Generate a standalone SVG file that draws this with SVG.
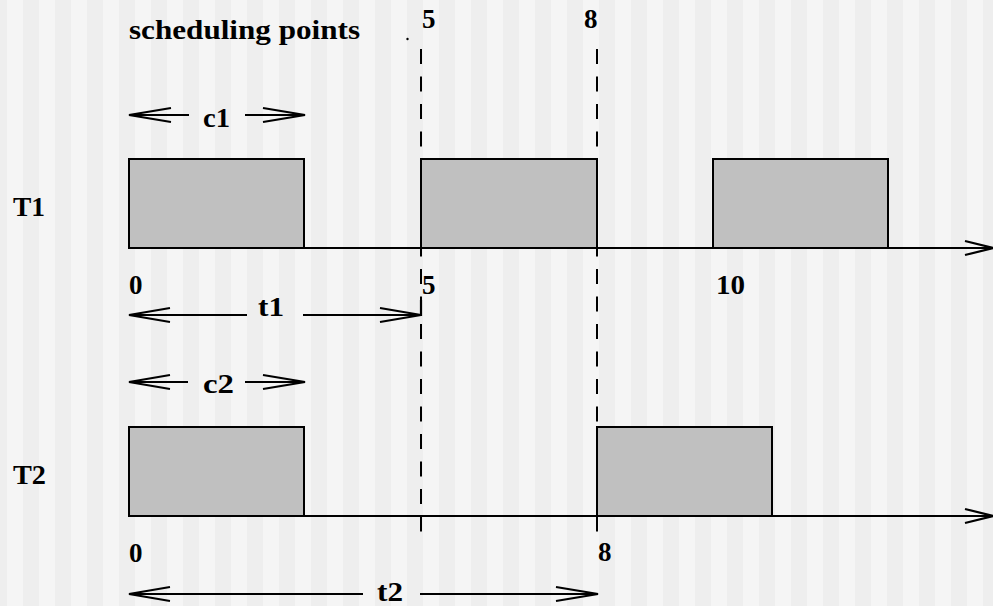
<svg xmlns="http://www.w3.org/2000/svg" width="993" height="606" viewBox="0 0 993 606">
  <defs>
    <pattern id="stripes" x="7" y="0" width="32" height="606" patternUnits="userSpaceOnUse">
      <rect x="0" y="0" width="16" height="606" fill="#f5f5f5"/>
      <rect x="16" y="0" width="16" height="606" fill="#eeeeee"/>
    </pattern>
  </defs>
  <style>
    .t { font-family: "Liberation Serif", "Times New Roman", serif; font-weight: bold; font-size: 27px; fill: #000; }
    .box { fill: #c0c0c0; stroke: #000; stroke-width: 2; }
    .ln { fill: none; stroke: #000; stroke-width: 2.2; }
    .dash { fill: none; stroke: #000; stroke-width: 2; stroke-dasharray: 15 12.5; }
  </style>
  <rect width="993" height="606" fill="url(#stripes)"/>

  <g id="title">
    <text class="t" x="129" y="39" textLength="231" lengthAdjust="spacingAndGlyphs">scheduling points</text>
    <circle cx="407.5" cy="39" r="1.2" fill="#000"/>
    <text class="t" x="422" y="28">5</text>
    <text class="t" x="584" y="28">8</text>
  </g>

  <g id="T1">
    <text class="t" x="13" y="216" textLength="32" lengthAdjust="spacingAndGlyphs">T1</text>
    <rect class="box" x="129" y="159" width="175" height="89"/>
    <rect class="box" x="421" y="159" width="176" height="89"/>
    <rect class="box" x="713" y="159" width="175" height="89"/>
    <text class="t" x="129" y="294">0</text>
    <text class="t" x="422" y="294">5</text>
    <text class="t" x="716" y="294" textLength="29" lengthAdjust="spacingAndGlyphs">10</text>
    <text class="t" x="203" y="127" textLength="27" lengthAdjust="spacingAndGlyphs">c1</text>
    <text class="t" x="258" y="316" textLength="26" lengthAdjust="spacingAndGlyphs">t1</text>
  </g>

  <g id="T2">
    <text class="t" x="13" y="484" textLength="33" lengthAdjust="spacingAndGlyphs">T2</text>
    <rect class="box" x="129" y="427" width="175" height="89"/>
    <rect class="box" x="597" y="427" width="175" height="89"/>
    <text class="t" x="129" y="562">0</text>
    <text class="t" x="598" y="561">8</text>
    <text class="t" x="203" y="393" textLength="31" lengthAdjust="spacingAndGlyphs">c2</text>
    <text class="t" x="377" y="601" textLength="26" lengthAdjust="spacingAndGlyphs">t2</text>
  </g>

  <g id="connectors">
    <!-- time axes -->
    <line class="ln" x1="129" y1="248" x2="993" y2="248"/>
    <polyline class="ln" points="965,241 993,248 965,255"/>
    <line class="ln" x1="129" y1="516" x2="993" y2="516"/>
    <polyline class="ln" points="965,509 993,516 965,523"/>

    <!-- scheduling point dashed lines -->
    <line class="dash" x1="421" y1="49" x2="421" y2="540"/>
    <line class="dash" x1="597" y1="49" x2="597" y2="540"/>

    <!-- c1 -->
    <line class="ln" x1="129" y1="115" x2="189" y2="115"/>
    <polyline class="ln" points="171,108 129,115 171,122"/>
    <line class="ln" x1="245" y1="115" x2="305" y2="115"/>
    <polyline class="ln" points="263,108 305,115 263,122"/>

    <!-- t1 -->
    <line class="ln" x1="129" y1="315" x2="247" y2="315"/>
    <polyline class="ln" points="170,308 129,315 170,322"/>
    <line class="ln" x1="303" y1="315" x2="421" y2="315"/>
    <polyline class="ln" points="380,308 421,315 380,322"/>
    <line class="ln" x1="421" y1="300" x2="421" y2="316"/>

    <!-- c2 -->
    <line class="ln" x1="129" y1="382" x2="188" y2="382"/>
    <polyline class="ln" points="170,375 129,382 170,389"/>
    <line class="ln" x1="245" y1="382" x2="305" y2="382"/>
    <polyline class="ln" points="263,375 305,382 263,389"/>

    <!-- t2 -->
    <line class="ln" x1="129" y1="594" x2="363" y2="594"/>
    <polyline class="ln" points="170,587 129,594 170,601"/>
    <line class="ln" x1="420" y1="594" x2="598" y2="594"/>
    <polyline class="ln" points="556,587 598,594 556,601"/>
  </g>
</svg>
